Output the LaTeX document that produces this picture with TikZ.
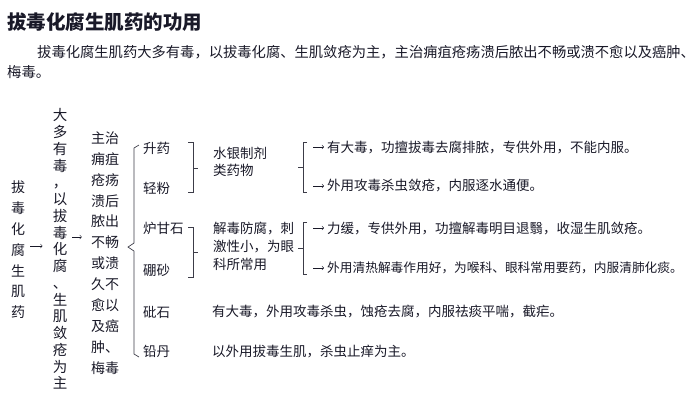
\documentclass[tikz,border=0pt]{standalone}
\usepackage{fontspec}
\setmainfont{Noto Sans CJK SC}
\definecolor{ink}{RGB}{25,25,40}
\tikzstyle{txt}=[inner sep=0pt,anchor=west,text=ink,font=\fontsize{13.5}{18}\selectfont]
\tikzstyle{col}=[inner sep=0pt,align=center,text=ink]
\tikzstyle{brk}=[draw=ink!85,line width=.7pt]
\tikzstyle{arr}=[->,draw=ink,line width=.6pt]

\begin{document}
\begin{tikzpicture}[x=1pt,y=-1pt]
\useasboundingbox (0,0) rectangle (700,408);

%heading
\node[txt,font=\fontsize{19.5}{22}\selectfont\bfseries] (title) at (7,22) {拔毒化腐生肌药的功用};
\node[txt,font=\fontsize{14.3}{20}\selectfont] (introa) at (37,52) {拔毒化腐生肌药大多有毒，以拔毒化腐、生肌敛疮为主，主治痈疽疮疡溃后脓出不畅或溃不愈以及癌肿、};
\node[txt,font=\fontsize{14.3}{20}\selectfont] (introb) at (7,72) {梅毒。};

%columns
\node[col,font=\fontsize{14}{20.8}\selectfont] (name) at (18,250) {拔\\毒\\化\\腐\\生\\肌\\药};
\node[col,font=\fontsize{14.5}{16.75}\selectfont] (effect) at (60,249) {大\\多\\有\\毒\\，\\以\\拔\\毒\\化\\腐\\、\\生\\肌\\敛\\疮\\为\\主};
\node[col,font=\fontsize{14}{20.9}\selectfont] (treat) at (105,253) {主治\\痈疽\\疮疡\\溃后\\脓出\\不畅\\或溃\\久不\\愈以\\及癌\\肿、\\梅毒};
\draw[arr,shorten <=5pt,shorten >=10pt] ([yshift=4pt]name.east) -- ([yshift=4pt]name.east -| effect.west);
\draw[arr,shorten <=5pt,shorten >=9pt] ([yshift=12pt]effect.east) -- ([yshift=12pt]effect.east -| treat.west);

%main brace
\draw[brk] (139,145) -- (134,148) -- (134,243) -- (128,247) -- (134,251) -- (134,354) -- (139,357);

%drugs
\node[txt] (shengyao) at (143,148) {升药};
\node[txt] (qingfen) at (143,188) {轻粉};
\node[txt] (luganshi) at (143,228) {炉甘石};
\node[txt] (pengsha) at (143,270) {硼砂};
\node[txt] (pishi) at (143,312) {砒石};
\node[txt] (qiandan) at (143,351) {铅丹};

%groups
\draw[brk] (188,142) -- (193,142) -- (193,192) -- (188,192) (193,168) -- (198,168);
\draw[brk] (188,227) -- (193,227) -- (193,277) -- (188,277) (193,252) -- (198,252);
\node[txt,align=left,font=\fontsize{13.5}{17}\selectfont] (mercury) at (213,161.5) {水银制剂\\类药物};
\node[txt,align=left,font=\fontsize{13.5}{18}\selectfont] (eye) at (213,246) {解毒防腐，刺\\激性小，为眼\\科所常用};
\draw[brk] (307,142) -- (303,142) -- (303,192) -- (307,192) (303,167) -- (298,167);
\draw[brk] (307,222) -- (303,222) -- (303,274) -- (307,274) (303,248) -- (298,248);

%uses
\node[txt] (usea) at (327,147) {有大毒，功擅拔毒去腐排脓，专供外用，不能内服。};
\node[txt] (useb) at (327,186) {外用攻毒杀虫敛疮，内服逐水通便。};
\node[txt] (usec) at (327,228) {力缓，专供外用，功擅解毒明目退翳，收湿生肌敛疮。};
\node[txt,font=\fontsize{12.7}{18}\selectfont] (used) at (327,268) {外用清热解毒作用好，为喉科、眼科常用要药，内服清肺化痰。};
\node[txt] (usee) at (212,312) {有大毒，外用攻毒杀虫，蚀疮去腐，内服祛痰平喘，截疟。};
\node[txt] (usef) at (212,352) {以外用拔毒生肌，杀虫止痒为主。};
\foreach \u in {usea,useb,usec,used}
  \draw[arr] ([xshift=-14pt]\u.west) -- ([xshift=-3pt]\u.west);

\end{tikzpicture}
\end{document}
